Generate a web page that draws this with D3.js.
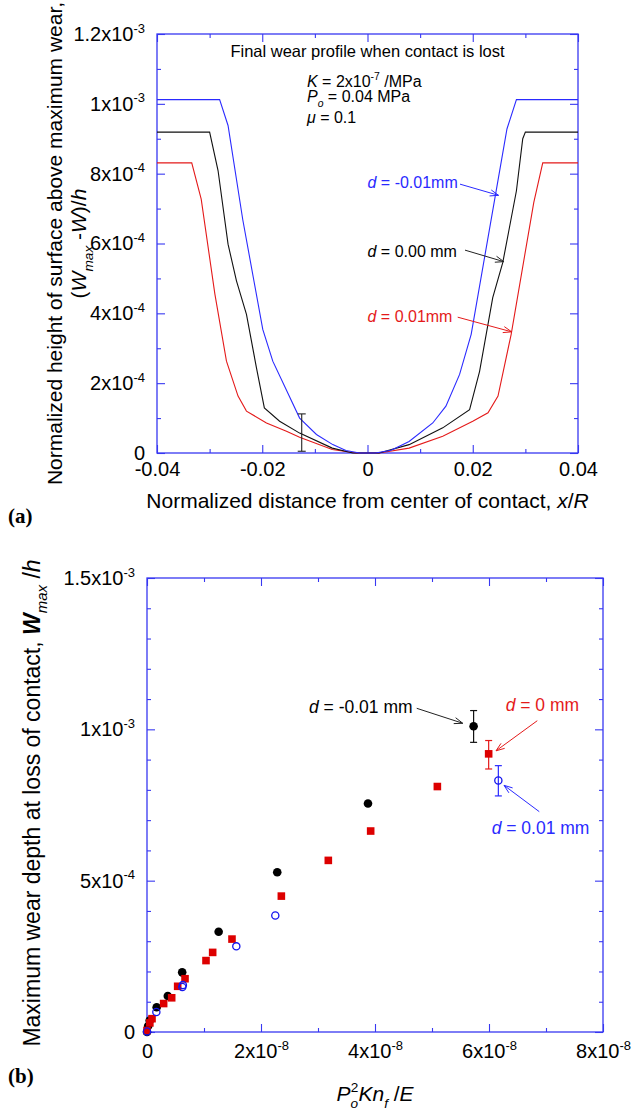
<!DOCTYPE html>
<html><head><meta charset="utf-8">
<script src="https://cdn.jsdelivr.net/npm/d3@7"></script>
<style>body{margin:0;background:#fff} svg{display:block}</style>
</head><body>
<svg id="c" width="632" height="1117"></svg>
<script>
// ---------------- DATA ----------------
// Panel (a): final wear profiles, [x/R, (Wmax-W)/h]
const profileBlue = [[-0.04,1.012e-3],[-0.0281,1.012e-3],[-0.0265,0.938e-3],[-0.0237,0.668e-3],[-0.0199,0.354e-3],[-0.018,0.263e-3],[-0.0129,0.100e-3],[-0.0097,0.053e-3],[-0.0066,0.024e-3],[-0.0041,0.007e-3],[-0.0015,0],[0.0015,0],[0.0045,0.008e-3],[0.0079,0.033e-3],[0.0124,0.086e-3],[0.0149,0.134e-3],[0.0175,0.225e-3],[0.0197,0.340e-3],[0.0265,0.928e-3],[0.0283,1.012e-3],[0.04,1.012e-3]];
const profileBlack = [[-0.04,0.919e-3],[-0.030,0.919e-3],[-0.0284,0.809e-3],[-0.0265,0.598e-3],[-0.0249,0.493e-3],[-0.0230,0.397e-3],[-0.0211,0.244e-3],[-0.0196,0.129e-3],[-0.0167,0.091e-3],[-0.0129,0.057e-3],[-0.0067,0.014e-3],[-0.0028,0],[0.0022,0],[0.0079,0.024e-3],[0.0143,0.072e-3],[0.0194,0.124e-3],[0.0213,0.234e-3],[0.0238,0.445e-3],[0.0257,0.545e-3],[0.0283,0.751e-3],[0.0295,0.900e-3],[0.030,0.919e-3],[0.04,0.919e-3]];
const profileRed = [[-0.04,0.831e-3],[-0.0334,0.831e-3],[-0.0316,0.727e-3],[-0.029,0.455e-3],[-0.0268,0.263e-3],[-0.0246,0.163e-3],[-0.023,0.120e-3],[-0.0192,0.086e-3],[-0.0154,0.062e-3],[-0.0129,0.045e-3],[-0.0067,0.010e-3],[-0.0022,0],[0.0022,0],[0.0079,0.014e-3],[0.0143,0.048e-3],[0.020,0.091e-3],[0.0229,0.115e-3],[0.0248,0.163e-3],[0.0273,0.340e-3],[0.0316,0.718e-3],[0.0333,0.831e-3],[0.04,0.831e-3]];
const profileErrorBar = [-0.0125, 0.005e-3, 0.112e-3]; // x, low, high

// Panel (b): max wear depth vs Po^2 K nf / E
const depthNegX = [0, 0.02e-8, 0.047e-8, 0.17e-8, 0.365e-8, 0.617e-8, 1.257e-8, 2.285e-8, 3.877e-8, 5.73e-8];
const depthNegY = [0, 0.02e-3, 0.038e-3, 0.082e-3, 0.119e-3, 0.197e-3, 0.331e-3, 0.528e-3, 0.755e-3, 1.010e-3];
const depthZeroX = [0, 0.05e-8, 0.088e-8, 0.292e-8, 0.433e-8, 0.538e-8, 0.667e-8, 1.035e-8, 1.152e-8, 1.491e-8, 2.357e-8, 3.181e-8, 3.924e-8, 5.094e-8, 5.994e-8];
const depthZeroY = [0.005e-3, 0.03e-3, 0.044e-3, 0.094e-3, 0.113e-3, 0.151e-3, 0.176e-3, 0.236e-3, 0.263e-3, 0.307e-3, 0.449e-3, 0.567e-3, 0.664e-3, 0.811e-3, 0.919e-3];
const depthPosX = [0, 0.164e-8, 0.62e-8, 0.63e-8, 1.567e-8, 2.251e-8, 6.164e-8];
const depthPosY = [0.002e-3, 0.066e-3, 0.149e-3, 0.155e-3, 0.283e-3, 0.385e-3, 0.831e-3];
const depthErrorBars = [[5.73e-8, 0.957e-3, 1.062e-3], [5.994e-8, 0.869e-3, 0.963e-3], [6.164e-8, 0.780e-3, 0.880e-3]];

// Tick values and labels
const topXTicks = [-0.04, -0.02, 0, 0.02, 0.04];
const topXTickText = ["-0.04", "-0.02", "0", "0.02", "0.04"];
const topXMinor = [-0.03, -0.01, 0.01, 0.03];
const topYTicks = [0, 2e-4, 4e-4, 6e-4, 8e-4, 1e-3, 1.2e-3];
const topYTickMant = ["0", "2", "4", "6", "8", "1", "1.2"];
const topYTickExp = ["", "-4", "-4", "-4", "-4", "-3", "-3"];
const topYMinor = [1e-4, 3e-4, 5e-4, 7e-4, 9e-4, 1.1e-3];
const botXTicks = [0, 2e-8, 4e-8, 6e-8, 8e-8];
const botXTickMant = ["0", "2", "4", "6", "8"];
const botXTickExp = ["", "-8", "-8", "-8", "-8"];
const botXMinor = [1e-8, 3e-8, 5e-8, 7e-8];
const botYTicks = [0, 5e-4, 1e-3, 1.5e-3];
const botYTickMant = ["0", "5", "1", "1.5"];
const botYTickExp = ["", "-4", "-3", "-3"];
const botYMinor = [1e-4, 2e-4, 3e-4, 4e-4, 6e-4, 7e-4, 8e-4, 9e-4, 1.1e-3, 1.2e-3, 1.3e-3, 1.4e-3];

// ---------------- DRAWING ----------------
const FONT = '"Liberation Sans", Arial, Helvetica, sans-serif';
const AXC = "#3838f2";
const C_BLUE = "#2a2aff", C_BLACK = "#111", C_RED = "#e41a1a";
const svg = d3.select("#c");

function rich(sel, parts, fs) {
  let off = 0;
  parts.forEach(p => {
    const t = sel.append("tspan").text(p.t);
    let o = 0, size = fs;
    if (p.sub) { o = 0.32 * fs; size = 0.65 * fs; }
    if (p.sup) { o = -0.42 * fs; size = 0.65 * fs; }
    if (o - off !== 0) t.attr("dy", o - off);
    off = o;
    if (size !== fs) t.attr("font-size", size);
    if (p.i) t.attr("font-style", "italic");
    if (p.b) t.attr("font-weight", "bold");
    if (p.dx) t.attr("dx", p.dx * fs);
  });
}

function panel(x, y, xMaj, xMin, yMaj, yMin, xLab, yLab, fs, xPad) {
  const g = svg.append("g");
  const [xl, xr] = x.range();
  const [yb, yt] = y.range();
  const style = s => {
    s.select(".domain").remove();
    s.attr("font-family", FONT).attr("font-size", fs);
    s.selectAll(".tick line").attr("stroke", AXC).attr("stroke-width", 1.1);
    s.selectAll(".tick text").attr("fill", "#000");
  };
  const add = (axis, tr) => g.append("g").attr("transform", tr).call(axis).call(style);
  const bx = add(d3.axisBottom(x).tickValues(xMaj).tickSize(-8).tickPadding(xPad).tickFormat(() => ""), `translate(0,${yb})`);
  bx.selectAll(".tick text").each(function (d, i) { rich(d3.select(this), xLab(i), fs); });
  add(d3.axisBottom(x).tickValues(xMin).tickSize(-4).tickFormat(() => ""), `translate(0,${yb})`);
  add(d3.axisTop(x).tickValues(xMaj).tickSize(-8).tickFormat(() => ""), `translate(0,${yt})`);
  add(d3.axisTop(x).tickValues(xMin).tickSize(-4).tickFormat(() => ""), `translate(0,${yt})`);
  const ly = add(d3.axisLeft(y).tickValues(yMaj).tickSize(-8).tickPadding(12).tickFormat(() => ""), `translate(${xl},0)`);
  ly.selectAll(".tick text").attr("dy", "0.32em").each(function (d, i) { rich(d3.select(this), yLab(i), fs); });
  add(d3.axisLeft(y).tickValues(yMin).tickSize(-4).tickFormat(() => ""), `translate(${xl},0)`);
  add(d3.axisRight(y).tickValues(yMaj).tickSize(-8).tickFormat(() => ""), `translate(${xr},0)`);
  add(d3.axisRight(y).tickValues(yMin).tickSize(-4).tickFormat(() => ""), `translate(${xr},0)`);
  g.append("rect").attr("x", xl).attr("y", yt).attr("width", xr - xl).attr("height", yb - yt)
    .attr("fill", "none").attr("stroke", AXC).attr("stroke-width", 1.3);
  return g;
}

function textAt(px, py, parts, fs, color, anchor, rotate) {
  const t = svg.append("text").attr("font-family", FONT).attr("font-size", fs).attr("fill", color || "#000")
    .attr("text-anchor", anchor || "start");
  if (rotate) t.attr("transform", `translate(${px},${py}) rotate(-90)`);
  else t.attr("x", px).attr("y", py);
  rich(t, parts, fs);
  return t;
}

function arrow(x1, y1, x2, y2, color) {
  const g = svg.append("g").attr("stroke", color).attr("stroke-width", 1).attr("fill", "none");
  g.append("line").attr("x1", x1).attr("y1", y1).attr("x2", x2).attr("y2", y2);
  const a = Math.atan2(y2 - y1, x2 - x1), L = 9, s = 0.35;
  [a + Math.PI - s, a + Math.PI + s].forEach(b => {
    g.append("line").attr("x1", x2).attr("y1", y2).attr("x2", x2 + L * Math.cos(b)).attr("y2", y2 + L * Math.sin(b));
  });
}

// ----- Panel (a)
const xA = d3.scaleLinear().domain([-0.04, 0.04]).range([157, 578]);
const yA = d3.scaleLinear().domain([0, 1.2e-3]).range([453, 34]);
panel(xA, yA, topXTicks, topXMinor, topYTicks, topYMinor,
  i => [{ t: topXTickText[i] }],
  i => topYTickExp[i] ? [{ t: topYTickMant[i] + "x10" }, { t: topYTickExp[i], sup: true }] : [{ t: topYTickMant[i] }], 20, 9);

const lineA = d3.line().x(d => xA(d[0])).y(d => yA(d[1]));
[[profileRed, C_RED], [profileBlack, C_BLACK], [profileBlue, C_BLUE]].forEach(([d, c]) => {
  svg.append("path").datum(d).attr("d", lineA).attr("fill", "none").attr("stroke", c).attr("stroke-width", 1.1);
});
{
  const [ex, lo, hi] = profileErrorBar;
  const g = svg.append("g").attr("stroke", "#222").attr("stroke-width", 1.1);
  g.append("line").attr("x1", xA(ex)).attr("x2", xA(ex)).attr("y1", yA(lo)).attr("y2", yA(hi));
  [lo, hi].forEach(v => g.append("line").attr("x1", xA(ex) - 4).attr("x2", xA(ex) + 4).attr("y1", yA(v)).attr("y2", yA(v)));
}
textAt(xA(0), yA(1.134e-3), [{ t: "Final wear profile when contact is lost" }], 16.5, "#000", "middle");
textAt(xA(-0.0115), yA(1.048e-3), [{ t: "K", i: true }, { t: " = 2x10" }, { t: "-7", sup: true }, { t: " /MPa" }], 16);
textAt(xA(-0.0115), yA(1.005e-3), [{ t: "P", i: true }, { t: "o", i: true, sub: true }, { t: " = 0.04 MPa" }], 16);
textAt(xA(-0.0115), yA(0.945e-3), [{ t: "\u03bc", i: true }, { t: " = 0.1" }], 16);
textAt(xA(0.0), yA(0.759e-3), [{ t: "d", i: true }, { t: " = -0.01mm" }], 16, C_BLUE);
textAt(xA(0.0), yA(0.561e-3), [{ t: "d", i: true }, { t: " = 0.00 mm" }], 16, "#000");
textAt(xA(0.0), yA(0.375e-3), [{ t: "d", i: true }, { t: " = 0.01mm" }], 16, C_RED);
arrow(xA(0.01758), yA(0.770e-3), xA(0.0249), yA(0.738e-3), C_BLUE);
arrow(xA(0.01853), yA(0.581e-3), xA(0.0259), yA(0.548e-3), "#222");
arrow(xA(0.01714), yA(0.389e-3), xA(0.0274), yA(0.347e-3), C_RED);

textAt(d3.mean(xA.range()), 508, [{ t: "Normalized distance from center of contact, " }, { t: "x", i: true }, { t: "/" }, { t: "R", i: true }], 21, "#000", "middle");
textAt(62, d3.mean(yA.range()), [{ t: "Normalized height of surface above maximum wear," }], 21, "#000", "middle", true);
textAt(86, d3.mean(yA.range()), [{ t: "(" }, { t: "W", i: true }, { t: "max", i: true, sub: true }, { t: " -" }, { t: "W", i: true }, { t: ")/" }, { t: "h", i: true }], 21, "#000", "middle", true);
svg.append("text").attr("x", 8).attr("y", 523).attr("font-family", '"Liberation Serif", "Times New Roman", serif')
  .attr("font-weight", "bold").attr("font-size", 21).text("(a)");

// ----- Panel (b)
const xB = d3.scaleLinear().domain([0, 8e-8]).range([147, 603]);
const yB = d3.scaleLinear().domain([0, 1.5e-3]).range([1032, 578]);
panel(xB, yB, botXTicks, botXMinor, botYTicks, botYMinor,
  i => botXTickExp[i] ? [{ t: botXTickMant[i] + "x10" }, { t: botXTickExp[i], sup: true }] : [{ t: botXTickMant[i] }],
  i => botYTickExp[i] ? [{ t: botYTickMant[i] + "x10" }, { t: botYTickExp[i], sup: true }] : [{ t: botYTickMant[i] }], 20, 12);

// error bars
const ebColors = [C_BLACK, C_RED, C_BLUE];
depthErrorBars.forEach(([ex, lo, hi], k) => {
  const g = svg.append("g").attr("stroke", ebColors[k]).attr("stroke-width", 1.2);
  g.append("line").attr("x1", xB(ex)).attr("x2", xB(ex)).attr("y1", yB(lo)).attr("y2", yB(hi));
  [lo, hi].forEach(v => g.append("line").attr("x1", xB(ex) - 3.5).attr("x2", xB(ex) + 3.5).attr("y1", yB(v)).attr("y2", yB(v)));
});
svg.append("g").selectAll("circle").data(depthNegX.map((v, i) => [v, depthNegY[i]])).join("circle")
  .attr("cx", d => xB(d[0])).attr("cy", d => yB(d[1])).attr("r", 4.3).attr("fill", "#000");
svg.append("g").selectAll("rect").data(depthZeroX.map((v, i) => [v, depthZeroY[i]])).join("rect")
  .attr("x", d => xB(d[0]) - 3.8).attr("y", d => yB(d[1]) - 3.8).attr("width", 7.6).attr("height", 7.6).attr("fill", "#dd0000");
svg.append("g").selectAll("circle").data(depthPosX.map((v, i) => [v, depthPosY[i]])).join("circle")
  .attr("cx", d => xB(d[0])).attr("cy", d => yB(d[1])).attr("r", 3.6).attr("fill", "none").attr("stroke", "#1515ee").attr("stroke-width", 1.3);

textAt(xB(2.842e-8), yB(1.054e-3), [{ t: "d", i: true }, { t: " = -0.01 mm" }], 17.5, "#000");
textAt(xB(6.293e-8), yB(1.062e-3), [{ t: "d", i: true }, { t: " = 0 mm" }], 17.5, C_RED);
textAt(xB(6.047e-8), yB(0.654e-3), [{ t: "d", i: true }, { t: " = 0.01 mm" }], 17.5, C_BLUE);
arrow(xB(4.732e-8), yB(1.0695e-3), xB(5.539e-8), yB(1.020e-3), "#222");
arrow(xB(6.847e-8), yB(1.0285e-3), xB(6.123e-8), yB(0.929e-3), C_RED);
arrow(xB(6.882e-8), yB(0.728e-3), xB(6.263e-8), yB(0.815e-3), C_BLUE);

textAt(d3.mean(xB.range()), 1101, [{ t: "P", i: true }, { t: "o", i: true, sub: true }, { t: "2", sup: true, dx: -0.34 }, { t: "Kn", i: true }, { t: "f", i: true, sub: true }, { t: " /" }, { t: "E", i: true }], 21, "#000", "middle");
textAt(40, 803, [{ t: "Maximum wear depth at loss of contact, " }, { t: "W", i: true, b: true }, { t: "max", i: true, sub: true }, { t: " /" }, { t: "h", i: true }], 23, "#000", "middle", true);
svg.append("text").attr("x", 8).attr("y", 1083).attr("font-family", '"Liberation Serif", "Times New Roman", serif')
  .attr("font-weight", "bold").attr("font-size", 21).text("(b)");
</script>
</body></html>
